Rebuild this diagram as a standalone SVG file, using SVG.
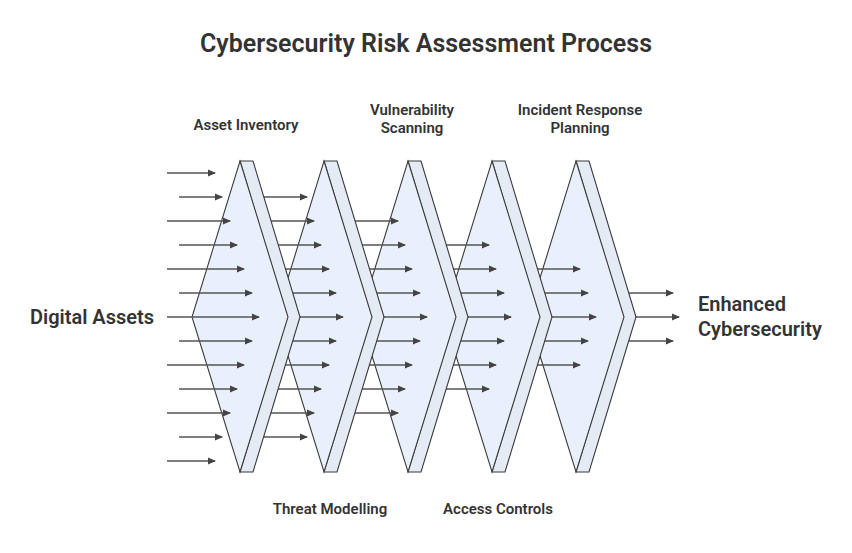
<svg xmlns="http://www.w3.org/2000/svg" width="852" height="553" viewBox="0 0 852 553">
<defs>
<style>
.f{fill:#e9f0fb;stroke:#3a3a3a;stroke-width:1.1}
.s{fill:#e4ebf5;stroke:#3a3a3a;stroke-width:1.1}
.a path{stroke:#555;stroke-width:1.5;fill:none;marker-end:url(#ah)}
.t{font-family:Roboto,"Liberation Sans",sans-serif;fill:#333;font-weight:600}
</style>
<marker id="ah" markerWidth="8" markerHeight="8" refX="7" refY="4" orient="auto" markerUnits="userSpaceOnUse"><path d="M0,0.5 L8,4 L0,7.5z" fill="#444"/></marker>
</defs>
<rect width="852" height="553" fill="#fff"/>
<text class="t" x="426" y="52" text-anchor="middle" font-size="25" font-weight="700">Cybersecurity Risk Assessment Process</text>
<g id="connectors-out" class="a">
<path d="M620,293H673"/><path d="M620,317H679"/><path d="M620,341H673"/>
</g>
<g id="stage5"><path class="s" d="M576,161H589L636,317L589,472H576L623,317Z"/><path class="f" d="M576,161L624,317L576,472L528,317Z"/>
<g class="a"><path d="M530,269H580"/><path d="M530,293H588"/><path d="M530,317H596"/><path d="M530,341H588"/><path d="M530,365H580"/></g></g>
<g id="stage4"><path class="s" d="M492,161H505L552,317L505,472H492L539,317Z"/><path class="f" d="M492,161L540,317L492,472L444,317Z"/>
<g class="a"><path d="M446,245H489"/><path d="M446,269H496"/><path d="M446,293H504"/><path d="M446,317H511"/><path d="M446,341H504"/><path d="M446,365H496"/><path d="M446,389H489"/></g></g>
<g id="stage3"><path class="s" d="M408,161H421L468,317L421,472H408L455,317Z"/><path class="f" d="M408,161L456,317L408,472L360,317Z"/>
<g class="a"><path d="M348,221H398"/><path d="M348,245H405"/><path d="M348,269H412"/><path d="M348,293H420"/><path d="M348,317H427"/><path d="M348,341H420"/><path d="M348,365H412"/><path d="M348,389H405"/><path d="M348,413H398"/></g></g>
<g id="stage2"><path class="s" d="M324,161H337L384,317L337,472H324L371,317Z"/><path class="f" d="M324,161L372,317L324,472L276,317Z"/>
<g class="a"><path d="M260,197H307"/><path d="M260,221H314"/><path d="M260,245H321"/><path d="M260,269H329"/><path d="M260,293H336"/><path d="M260,317H343"/><path d="M260,341H336"/><path d="M260,365H329"/><path d="M260,389H321"/><path d="M260,413H314"/><path d="M260,437H307"/></g></g>
<g id="stage1"><path class="s" d="M240,161H253L300,317L253,472H240L287,317Z"/><path class="f" d="M240,161L288,317L240,472L192,317Z"/>
<g class="a"><path d="M167,173H215"/><path d="M179,197H222"/><path d="M167,221H230"/><path d="M179,245H237"/><path d="M167,269H244"/><path d="M179,293H252"/><path d="M167,317H259"/><path d="M179,341H252"/><path d="M167,365H244"/><path d="M179,389H237"/><path d="M167,413H230"/><path d="M179,437H222"/><path d="M167,461H215"/></g></g>
<g id="labels">
<text class="t" x="92" y="324" text-anchor="middle" font-size="20">Digital Assets</text>
<text class="t" x="698" y="311" font-size="20">Enhanced</text>
<text class="t" x="698" y="336" font-size="20">Cybersecurity</text>
<text class="t" x="246" y="130" text-anchor="middle" font-size="15">Asset Inventory</text>
<text class="t" x="412" y="115" text-anchor="middle" font-size="15">Vulnerability</text>
<text class="t" x="412" y="133" text-anchor="middle" font-size="15">Scanning</text>
<text class="t" x="580" y="115" text-anchor="middle" font-size="15">Incident Response</text>
<text class="t" x="580" y="133" text-anchor="middle" font-size="15">Planning</text>
<text class="t" x="330" y="514" text-anchor="middle" font-size="15">Threat Modelling</text>
<text class="t" x="498" y="514" text-anchor="middle" font-size="15">Access Controls</text>
</g>
</svg>
